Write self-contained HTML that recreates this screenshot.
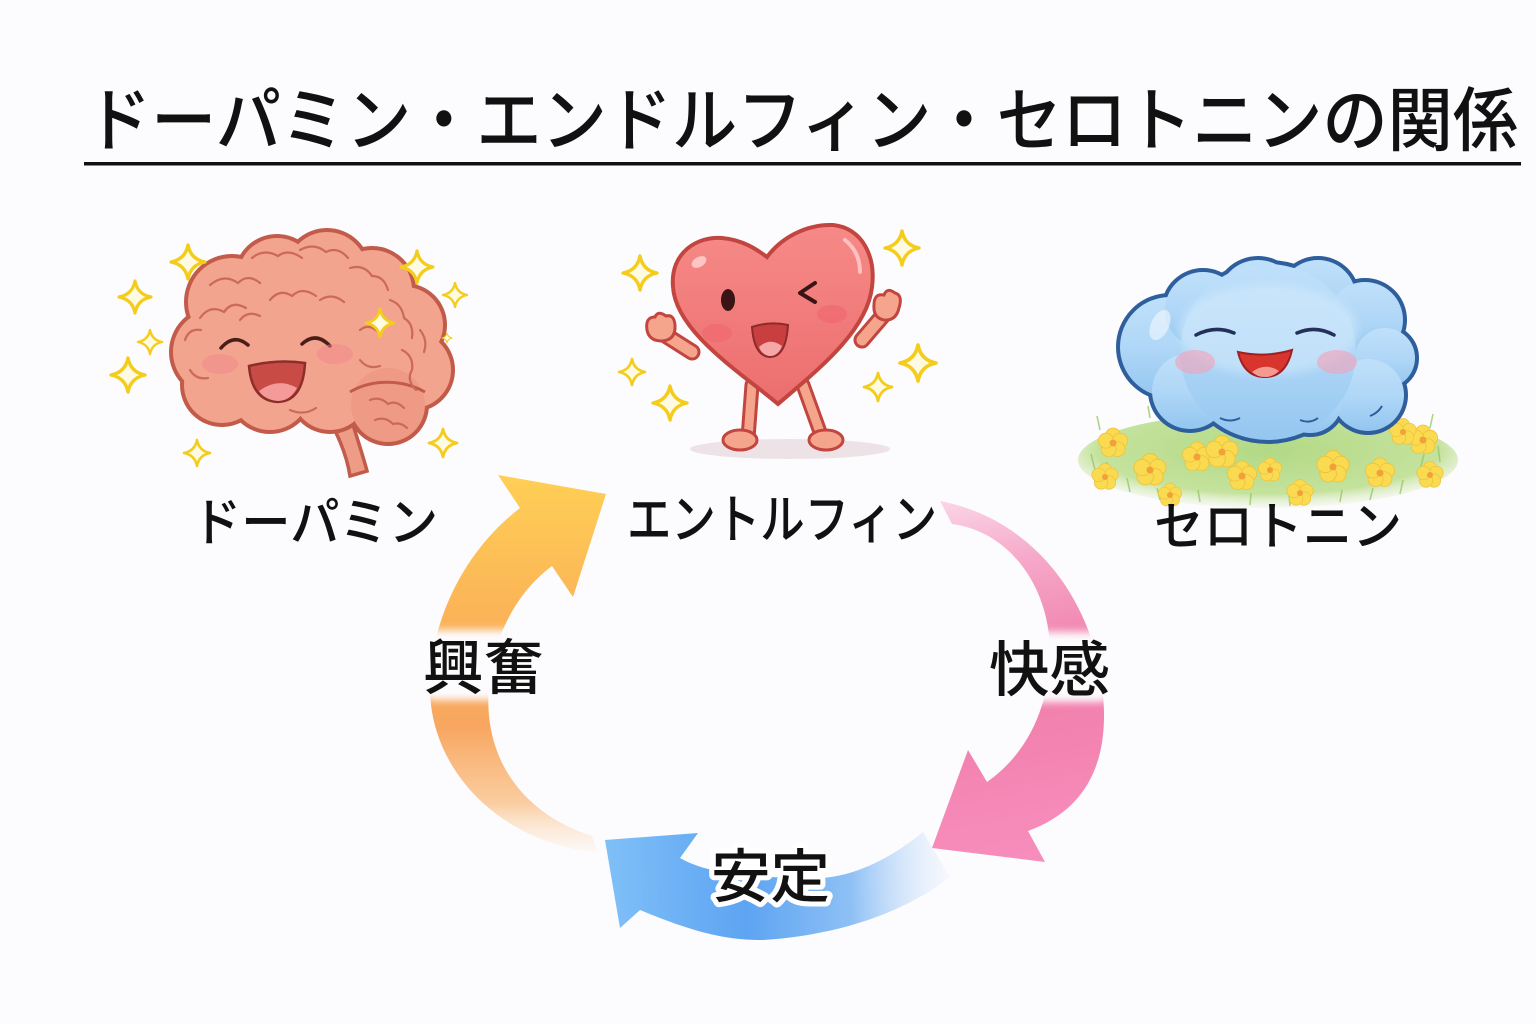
<!DOCTYPE html>
<html><head><meta charset="utf-8">
<style>
html,body{margin:0;padding:0;background:#fcfbfd;}
svg{display:block;}
text{font-family:"Liberation Sans","Noto Sans CJK JP",sans-serif;fill:#111;font-weight:500;}
</style></head>
<body>
<svg width="1536" height="1024" viewBox="0 0 1536 1024" xmlns="http://www.w3.org/2000/svg">
<defs>
  <linearGradient id="gOr" gradientUnits="userSpaceOnUse" x1="545" y1="478" x2="545" y2="860">
    <stop offset="0" stop-color="#FFCF55"/>
    <stop offset="0.35" stop-color="#FBB457"/>
    <stop offset="0.65" stop-color="#F8A660"/>
    <stop offset="0.85" stop-color="#FAC48E" stop-opacity="0.85"/>
    <stop offset="1" stop-color="#FDF0E0" stop-opacity="0.1"/>
  </linearGradient>
  <linearGradient id="gPk" gradientUnits="userSpaceOnUse" x1="940" y1="500" x2="1010" y2="860">
    <stop offset="0" stop-color="#FAD6E6"/>
    <stop offset="0.2" stop-color="#F6A9CA"/>
    <stop offset="0.5" stop-color="#F07DA9"/>
    <stop offset="1" stop-color="#F78DBC"/>
  </linearGradient>
  <linearGradient id="gBl" gradientUnits="userSpaceOnUse" x1="605" y1="870" x2="955" y2="860">
    <stop offset="0" stop-color="#80C0F8"/>
    <stop offset="0.4" stop-color="#5DA4F2"/>
    <stop offset="0.7" stop-color="#8EC0F5"/>
    <stop offset="1" stop-color="#E8F1FC" stop-opacity="0.2"/>
  </linearGradient>
  <linearGradient id="gHeart" x1="0" y1="0" x2="0" y2="1">
    <stop offset="0" stop-color="#F68A88"/>
    <stop offset="1" stop-color="#EC6E6E"/>
  </linearGradient>
  <linearGradient id="gCloud" x1="0" y1="0" x2="0" y2="1">
    <stop offset="0" stop-color="#BFE0FA"/>
    <stop offset="0.5" stop-color="#B0D7F7"/>
    <stop offset="1" stop-color="#94C6F0"/>
  </linearGradient>
  <radialGradient id="gGrass" cx="0.5" cy="0.4" r="0.6">
    <stop offset="0" stop-color="#B2D985"/>
    <stop offset="0.75" stop-color="#C4E29C"/>
    <stop offset="1" stop-color="#E8F2D8" stop-opacity="0.3"/>
  </radialGradient>
  <filter id="blur4" x="-20%" y="-20%" width="140%" height="140%"><feGaussianBlur stdDeviation="4"/></filter>
  <path id="sp" d="M0,-10 Q1.6,-1.6 10,0 Q1.6,1.6 0,10 Q-1.6,1.6 -10,0 Q-1.6,-1.6 0,-10 Z" fill="#FFFBE2" stroke="#F4CD1C" stroke-width="2" stroke-linejoin="round"/>
  <g id="fl">
    <circle cx="0" cy="-7.5" r="7.5"/><circle cx="7.1" cy="-2.3" r="7.5"/><circle cx="4.4" cy="6.1" r="7.5"/>
    <circle cx="-4.4" cy="6.1" r="7.5"/><circle cx="-7.1" cy="-2.3" r="7.5"/>
  </g>
</defs>

<!-- Title -->
<text x="86" y="145" font-size="70" textLength="1432" lengthAdjust="spacingAndGlyphs">ドーパミン・エンドルフィン・セロトニンの関係</text>
<rect x="84" y="162" width="1437" height="3.5" fill="#111"/>

<!-- ===== BRAIN ===== -->
<g>
  <path d="M322,405 C335,430 346,450 350,476 L367,471 C360,445 352,424 346,400 Z" fill="#EE9C86" stroke="#C25B4A" stroke-width="3.5"/>
  <g fill="#C25B4A" stroke="#C25B4A" stroke-width="8">
    <circle cx="215" cy="352" r="42"/><circle cx="232" cy="302" r="44"/><circle cx="277" cy="277" r="39"/>
    <circle cx="327" cy="272" r="40"/><circle cx="372" cy="290" r="40"/><circle cx="405" cy="325" r="38"/>
    <circle cx="413" cy="370" r="38"/><circle cx="388" cy="405" r="37"/><circle cx="330" cy="392" r="38"/>
    <circle cx="270" cy="390" r="40"/><circle cx="222" cy="385" r="38"/><circle cx="305" cy="335" r="80"/>
  </g>
  <g fill="#F3A48E">
    <circle cx="215" cy="352" r="42"/><circle cx="232" cy="302" r="44"/><circle cx="277" cy="277" r="39"/>
    <circle cx="327" cy="272" r="40"/><circle cx="372" cy="290" r="40"/><circle cx="405" cy="325" r="38"/>
    <circle cx="413" cy="370" r="38"/><circle cx="330" cy="392" r="38"/>
    <circle cx="270" cy="390" r="40"/><circle cx="222" cy="385" r="38"/><circle cx="305" cy="335" r="80"/>
  </g>
  <circle cx="388" cy="405" r="37" fill="#EF9A84"/>
  <path d="M350,392 C370,380 400,378 425,392" fill="none" stroke="#C25B4A" stroke-width="3"/>
  <g fill="none" stroke="#CB6A56" stroke-width="2.2" stroke-linecap="round">
    <path d="M200,318 q10,-14 24,-6 q8,-12 22,-4"/>
    <path d="M210,285 q14,-12 28,-2 q10,-10 22,0"/>
    <path d="M252,258 q12,-10 26,-2 q10,-8 24,2"/>
    <path d="M300,250 q14,-8 26,2 q12,-6 22,6"/>
    <path d="M350,268 q14,-4 22,8 q12,0 16,14"/>
    <path d="M390,300 q12,4 14,18 q10,6 8,20"/>
    <path d="M402,350 q12,6 10,20 q-6,10 4,20"/>
    <path d="M270,300 q10,-12 22,-4 q10,-10 24,0"/>
    <path d="M320,300 q12,-8 24,2"/>
    <path d="M240,320 q8,-10 20,-4"/>
    <path d="M360,330 q10,-8 20,4"/>
    <path d="M370,400 q10,-4 18,4 q8,-4 16,4"/>
    <path d="M375,420 q10,-4 18,4 q8,-2 14,4"/>
    <path d="M190,370 q6,10 18,8"/>
    <path d="M360,360 q8,10 20,6"/>
    <path d="M290,410 q14,6 26,-2"/>
    <path d="M185,340 q4,-12 16,-10"/>
    <path d="M420,330 q8,10 4,22"/>
  </g>
  <!-- face -->
  <path d="M221,348 Q234,333 248,345" fill="none" stroke="#4A1E18" stroke-width="3.5" stroke-linecap="round"/>
  <path d="M302,344 Q316,331 330,346" fill="none" stroke="#4A1E18" stroke-width="3.5" stroke-linecap="round"/>
  <ellipse cx="220" cy="364" rx="18" ry="10" fill="#F2858C" opacity="0.5"/>
  <ellipse cx="335" cy="354" rx="18" ry="10" fill="#F2858C" opacity="0.5"/>
  <path d="M249,366 Q277,359 305,363 Q303,401 278,402 Q252,401 249,366 Z" fill="#C84B46" stroke="#8E2E2A" stroke-width="2.5"/>
  <path d="M259,391 Q278,377 297,388 Q290,401 278,401 Q265,400 259,391 Z" fill="#F49A98"/>
  <!-- sparkles -->
  <use href="#sp" transform="translate(188,262) scale(1.7)"/>
  <use href="#sp" transform="translate(135,297) scale(1.6)"/>
  <use href="#sp" transform="translate(150,342) scale(1.2)"/>
  <use href="#sp" transform="translate(128,375) scale(1.7)"/>
  <use href="#sp" transform="translate(197,453) scale(1.3)"/>
  <use href="#sp" transform="translate(417,267) scale(1.6)"/>
  <use href="#sp" transform="translate(455,295) scale(1.2)"/>
  <use href="#sp" transform="translate(380,323) scale(1.4)"/>
  <use href="#sp" transform="translate(447,338) scale(0.5)"/>
  <use href="#sp" transform="translate(443,443) scale(1.4)"/>
</g>

<!-- ===== HEART ===== -->
<g>
  <ellipse cx="790" cy="449" rx="100" ry="10" fill="#E9DDE1" opacity="0.8"/>
  <path d="M752,385 L748,438" stroke="#C2453F" stroke-width="15" stroke-linecap="round"/>
  <path d="M752,385 L748,438" stroke="#F4A58C" stroke-width="9" stroke-linecap="round"/>
  <path d="M803,385 L820,432" stroke="#C2453F" stroke-width="15" stroke-linecap="round"/>
  <path d="M803,385 L820,432" stroke="#F4A58C" stroke-width="9" stroke-linecap="round"/>
  <ellipse cx="740" cy="440" rx="17" ry="10" fill="#F4A58C" stroke="#C2453F" stroke-width="3"/>
  <ellipse cx="826" cy="440" rx="17" ry="10" fill="#F4A58C" stroke="#C2453F" stroke-width="3"/>
  <path d="M692,352 L662,333" stroke="#C2453F" stroke-width="17" stroke-linecap="round"/>
  <path d="M692,352 L662,333" stroke="#F4A58C" stroke-width="11" stroke-linecap="round"/>
  <path d="M862,340 L886,312" stroke="#C2453F" stroke-width="17" stroke-linecap="round"/>
  <path d="M862,340 L886,312" stroke="#F4A58C" stroke-width="11" stroke-linecap="round"/>
  <path d="M647,330 Q645,317 655,317 Q658,310 666,316 Q674,314 675,325 Q676,340 662,341 Q649,341 647,330 Z" fill="#F4A58C" stroke="#C2453F" stroke-width="3"/>
  <path d="M874,305 Q874,293 884,295 Q887,287 895,293 Q903,295 899,308 Q896,321 884,320 Q873,318 874,305 Z" fill="#F4A58C" stroke="#C2453F" stroke-width="3"/>
  <path d="M778,404 C740,372 676,332 673,287 C670,252 698,236 722,238 C745,240 760,252 767,257 C781,238 806,224 833,225 C862,228 876,256 872,287 C867,332 815,372 778,404 Z" fill="url(#gHeart)" stroke="#C2453F" stroke-width="4"/>
  <ellipse cx="699" cy="262" rx="8" ry="5" fill="#FFD6D6" opacity="0.8" transform="rotate(-30 699 262)"/>
  <path d="M845,240 Q860,252 860,272" fill="none" stroke="#FFD0D0" stroke-width="4" stroke-linecap="round" opacity="0.8"/>
  <ellipse cx="728" cy="300" rx="7" ry="11" fill="#3A1414"/>
  <path d="M815,283 L800,293 L815,302" fill="none" stroke="#3A1414" stroke-width="4" stroke-linecap="round" stroke-linejoin="round"/>
  <ellipse cx="717" cy="333" rx="15" ry="9" fill="#F0606A" opacity="0.45"/>
  <ellipse cx="832" cy="314" rx="15" ry="9" fill="#F0606A" opacity="0.45"/>
  <path d="M752,327 Q770,321 788,325 Q786,357 770,357 Q754,356 752,327 Z" fill="#C93F3F" stroke="#8E2A2A" stroke-width="2"/>
  <path d="M759,347 Q770,337 782,346 Q778,356 770,356 Q762,355 759,347 Z" fill="#F6A8A8"/>
  <use href="#sp" transform="translate(640,273) scale(1.7)"/>
  <use href="#sp" transform="translate(902,248) scale(1.7)"/>
  <use href="#sp" transform="translate(632,372) scale(1.3)"/>
  <use href="#sp" transform="translate(670,403) scale(1.7)"/>
  <use href="#sp" transform="translate(918,363) scale(1.8)"/>
  <use href="#sp" transform="translate(878,387) scale(1.4)"/>
</g>

<!-- ===== CLOUD + GRASS ===== -->
<g>
  <ellipse cx="1268" cy="460" rx="190" ry="48" fill="url(#gGrass)"/>
  <g stroke="#93C765" stroke-width="1.6" opacity="0.75" fill="none">
    <path d="M1095,470 l-4,-16 M1105,480 l2,-18 M1420,470 l4,-16 M1440,462 l-2,-16 M1130,492 l-3,-14 M1400,494 l3,-14 M1200,502 l-2,-12 M1340,502 l2,-12 M1100,430 l-3,-14 M1430,428 l3,-14 M1150,418 l-2,-12 M1390,418 l2,-12 M1250,505 l1,-12 M1290,506 l-1,-12 M1160,500 l-3,-12 M1370,500 l3,-12"/>
  </g>
  <g fill="#F9DA50" stroke="#EFC23A" stroke-width="0.8">
    <use href="#fl" transform="translate(1113,443)"/>
    <use href="#fl" transform="translate(1150,470) scale(1.1)"/>
    <use href="#fl" transform="translate(1105,477) scale(0.9)"/>
    <use href="#fl" transform="translate(1197,457)"/>
    <use href="#fl" transform="translate(1222,452) scale(1.1)"/>
    <use href="#fl" transform="translate(1242,476)"/>
    <use href="#fl" transform="translate(1300,493) scale(0.9)"/>
    <use href="#fl" transform="translate(1333,467) scale(1.1)"/>
    <use href="#fl" transform="translate(1380,473)"/>
    <use href="#fl" transform="translate(1423,440)"/>
    <use href="#fl" transform="translate(1430,475) scale(0.9)"/>
    <use href="#fl" transform="translate(1403,432) scale(0.9)"/>
    <use href="#fl" transform="translate(1170,495) scale(0.8)"/>
    <use href="#fl" transform="translate(1270,470) scale(0.8)"/>
  </g>
  <g fill="#F2A03A">
    <circle cx="1113" cy="443" r="3.5"/><circle cx="1150" cy="470" r="3.5"/><circle cx="1105" cy="477" r="3"/>
    <circle cx="1197" cy="457" r="3.5"/><circle cx="1222" cy="452" r="3.5"/><circle cx="1242" cy="476" r="3.5"/>
    <circle cx="1300" cy="493" r="3"/><circle cx="1333" cy="467" r="3.5"/><circle cx="1380" cy="473" r="3.5"/>
    <circle cx="1423" cy="440" r="3.5"/><circle cx="1430" cy="475" r="3"/><circle cx="1403" cy="432" r="3"/>
    <circle cx="1170" cy="495" r="3"/><circle cx="1270" cy="470" r="3"/>
  </g>
  <g fill="#2E5E9C" stroke="#2E5E9C" stroke-width="8">
    <circle cx="1170" cy="347" r="50"/><circle cx="1203" cy="310" r="38"/><circle cx="1258" cy="300" r="40"/>
    <circle cx="1318" cy="298" r="38"/><circle cx="1365" cy="320" r="38"/><circle cx="1385" cy="358" r="30"/>
    <circle cx="1368" cy="395" r="36"/><circle cx="1310" cy="401" r="32"/><circle cx="1250" cy="401" r="32"/>
    <circle cx="1190" cy="391" r="38"/><circle cx="1268" cy="352" r="88"/>
  </g>
  <g fill="url(#gCloud)">
    <circle cx="1170" cy="347" r="50"/><circle cx="1203" cy="310" r="38"/><circle cx="1258" cy="300" r="40"/>
    <circle cx="1318" cy="298" r="38"/><circle cx="1365" cy="320" r="38"/><circle cx="1385" cy="358" r="30"/>
    <circle cx="1368" cy="395" r="36"/><circle cx="1310" cy="401" r="32"/><circle cx="1250" cy="401" r="32"/>
    <circle cx="1190" cy="391" r="38"/><circle cx="1268" cy="352" r="88"/>
  </g>
  <ellipse cx="1268" cy="330" rx="90" ry="45" fill="#D6ECFC" opacity="0.5" filter="url(#blur4)"/>
  <ellipse cx="1160" cy="325" rx="9" ry="16" fill="#fff" opacity="0.5" transform="rotate(25 1160 325)"/>
  <path d="M1220,418 q10,5 20,0 M1300,420 q10,4 18,-2 M1370,416 q8,-3 12,-10" fill="none" stroke="#2E5E9C" stroke-width="2"/>
  <path d="M1196,335 Q1215,325 1234,333" fill="none" stroke="#22305A" stroke-width="3.5" stroke-linecap="round"/>
  <path d="M1297,333 Q1316,325 1334,335" fill="none" stroke="#22305A" stroke-width="3.5" stroke-linecap="round"/>
  <ellipse cx="1195" cy="362" rx="20" ry="12" fill="#F5A0B8" opacity="0.6"/>
  <ellipse cx="1337" cy="362" rx="20" ry="12" fill="#F5A0B8" opacity="0.6"/>
  <path d="M1238,352 Q1265,358 1292,350 Q1286,377 1265,377 Q1244,377 1238,352 Z" fill="#D9352F" stroke="#A02020" stroke-width="2"/>
  <path d="M1252,372 Q1265,362 1279,371 Q1273,377 1265,377 Q1257,377 1252,372 Z" fill="#F59A90"/>
</g>

<!-- ===== CYCLE ARROWS ===== -->
<path d="M597,852 C520,846 446,792 432,712 C422,650 450,562 520,508 L498,475 L606,494 L573,597 L552,566 C506,600 484,662 489,716 C495,776 535,818 592,836 Z" fill="url(#gOr)"/>
<path d="M940,501 C1040,520 1102,612 1104,712 C1105,772 1080,812 1028,831 L1045,862 L932,848 L968,750 L987,782 C1030,752 1050,702 1050,652 C1050,590 1012,532 952,524 Z" fill="url(#gPk)"/>
<path d="M950,877 C905,912 840,935 763,940 C730,940 700,935 640,910 L620,928 L605,840 L698,833 L680,858 C705,872 740,878 823,878 C860,875 895,855 923,832 Z" fill="url(#gBl)"/>

<rect x="420" y="630" width="128" height="70" rx="14" fill="#fcfbfd" filter="url(#blur4)"/>
<rect x="987" y="632" width="126" height="70" rx="14" fill="#fcfbfd" filter="url(#blur4)"/>

<text x="192" y="541" font-size="52" textLength="246" lengthAdjust="spacingAndGlyphs">ドーパミン</text>
<text x="627" y="538" font-size="53" textLength="310" lengthAdjust="spacingAndGlyphs">エントルフィン</text>
<text x="1154" y="545" font-size="52" textLength="248" lengthAdjust="spacingAndGlyphs">セロトニン</text>
<text x="423" y="689" font-size="60" textLength="121" lengthAdjust="spacingAndGlyphs">興奮</text>
<text x="989" y="691" font-size="60" textLength="121" lengthAdjust="spacingAndGlyphs">快感</text>
<text x="711" y="897" font-size="58" textLength="119" lengthAdjust="spacingAndGlyphs" stroke="#ffffff" stroke-width="10" stroke-linejoin="round" paint-order="stroke" style="fill:#111">安定</text>
</svg>
</body></html>
